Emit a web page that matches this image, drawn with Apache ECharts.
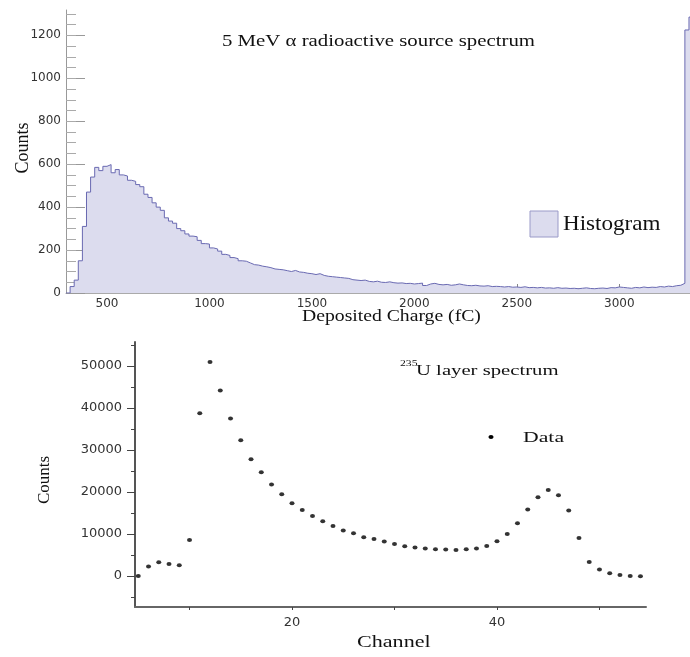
<!DOCTYPE html>
<html>
<head>
<meta charset="utf-8">
<script src="https://cdn.jsdelivr.net/npm/echarts@6.0.0/dist/echarts.min.js"></script>
<style>
  body { margin: 0; background: #fff; }
  #chart { width: 690px; height: 657px; }
</style>
</head>
<body>
<div id="chart"></div>
<script>
// top panel: alpha source histogram, 20 fC bins starting at 300 fC
const binStart = 300;
const binWidth = 20;
const histCounts = [
  0, 30, 60, 150, 310, 470, 540, 585, 570, 590,
  598, 560, 575, 550, 545, 525, 520, 505, 495, 460,
  445, 420, 400, 385, 350, 335, 325, 300, 290, 275,
  265, 262, 245, 230, 228, 210, 205, 195, 180, 175,
  165, 160, 150, 148, 140, 132, 130, 125, 122, 118,
  112, 110, 108, 104, 100, 105, 98, 96, 92, 90,
  86, 90, 82, 78, 76, 74, 72, 70, 68, 62,
  60, 58, 60, 54, 52, 55, 50, 49, 52, 48,
  46, 47, 44, 45, 42, 44, 46, 35, 42, 45,
  40, 38, 40, 36, 38, 42, 38, 35, 34, 36,
  33, 32, 34, 30, 31, 30, 28, 30, 27, 28,
  26, 29, 25, 26, 24, 26, 23, 24, 22, 25,
  22, 23, 21, 22, 20, 22, 24, 21, 20, 22,
  23, 21, 25, 24, 28, 26, 24, 22, 26, 24,
  28, 25, 27, 26, 30, 28, 32, 30, 34, 36,
  45, 1225, 1285
];
const topXLabels = [500, 1000, 1500, 2000, 2500, 3000];
const topYLabels = [0, 200, 400, 600, 800, 1000, 1200];

// bottom panel: 235U layer spectrum
const channels = [
  5, 6, 7, 8, 9, 10, 11, 12, 13, 14, 15, 16, 17, 18, 19, 20, 21, 22, 23, 24, 25,
  26, 27, 28, 29, 30, 31, 32, 33, 34, 35, 36, 37, 38, 39, 40,
  41, 42, 43, 44, 45, 46, 47, 48, 49, 50, 51, 52, 53, 54
];
const uCounts = [
  0, 2220, 3250, 2860, 2540, 8570, 38730, 50950, 44130, 37460, 32300, 27780, 24680, 21750, 19440, 17300, 15700, 14290, 13020, 11900, 10790,
  10160, 9210, 8810, 8170, 7620, 7060, 6750, 6510, 6350, 6270, 6190, 6350, 6510, 7140, 8250,
  10000, 12540, 15790, 18730, 20480, 19210, 15560, 9050, 3330, 1510, 630, 240, 0, -100
];
const botXLabels = [20, 40];
const botXTicks = [10, 20, 30, 40, 50];
const botYLabels = [0, 10000, 20000, 30000, 40000, 50000];
const botYMinor = [-5000, 5000, 15000, 25000, 35000, 45000, 55000];

const topXMinor = [];
for (let v = 300; v <= 3300; v += 100) topXMinor.push(v);
const topYMinor = [];
for (let v = 50; v <= 1300; v += 50) topYMinor.push(v);

const histData = histCounts.map((c, i) => [binStart + i * binWidth, c]);
histData.push([binStart + histCounts.length * binWidth, histCounts[histCounts.length - 1]]);

const serif = '"Liberation Serif", "Times New Roman", serif';
const sans = '"DejaVu Sans", sans-serif';
const histFill = '#dcdcee';
const histLine = '#6a6ab2';
const plain = v => String(v);

const chart = echarts.init(document.getElementById('chart'));

const option = {
  animation: false,
  grid: [
    { left: 66, top: 10, width: 624, height: 283 },
    { left: 135, top: 342, width: 511, height: 265 },
  ],
  xAxis: [
    {
      gridIndex: 0, type: 'value', position: 'bottom', min: 300, max: 3345,
      axisLine: { show: true, onZero: false, lineStyle: { color: '#aaa' } },
      axisTick: { show: true, inside: true, length: 9, customValues: topXLabels, lineStyle: { color: '#888' } },
      axisLabel: { customValues: topXLabels, formatter: plain, color: '#333', fontSize: 12, fontFamily: sans, margin: 5 },
      splitLine: { show: false },
    },
    {
      gridIndex: 0, type: 'value', position: 'bottom', min: 300, max: 3345,
      axisLine: { show: false, onZero: false },
      axisTick: { show: true, inside: true, length: 5, customValues: topXMinor, lineStyle: { color: '#999' } },
      axisLabel: { show: false },
      splitLine: { show: false },
    },
    {
      gridIndex: 1, type: 'value', position: 'bottom', min: 4.68, max: 54.54,
      axisLine: { show: true, onZero: false, lineStyle: { color: '#666', width: 2 } },
      axisTick: { show: true, length: 3, customValues: botXTicks, lineStyle: { color: '#444' } },
      axisLabel: { customValues: botXLabels, formatter: plain, color: '#333', fontSize: 13, fontFamily: sans, margin: 9 },
      splitLine: { show: false },
    },
  ],
  yAxis: [
    {
      gridIndex: 0, type: 'value', position: 'left', min: 0, max: 1318,
      axisLine: { show: true, onZero: false, lineStyle: { color: '#999' } },
      axisTick: { show: true, inside: true, length: 19, customValues: topYLabels, lineStyle: { color: '#999' } },
      axisLabel: { customValues: topYLabels, formatter: plain, color: '#333', fontSize: 12, fontFamily: sans, margin: 5 },
      splitLine: { show: false },
    },
    {
      gridIndex: 0, type: 'value', position: 'left', min: 0, max: 1318,
      axisLine: { show: false, onZero: false },
      axisTick: { show: true, inside: true, length: 10, customValues: topYMinor, lineStyle: { color: '#aaa' } },
      axisLabel: { show: false },
      splitLine: { show: false },
    },
    {
      gridIndex: 1, type: 'value', position: 'left', min: -7400, max: 55700,
      axisLine: { show: true, onZero: false, lineStyle: { color: '#555', width: 2 } },
      axisTick: { show: true, length: 8, customValues: botYLabels, lineStyle: { color: '#444' } },
      axisLabel: { customValues: botYLabels, formatter: plain, color: '#333', fontSize: 13, fontFamily: sans, margin: 13 },
      splitLine: { show: false },
    },
    {
      gridIndex: 1, type: 'value', position: 'left', min: -7400, max: 55700,
      axisLine: { show: false, onZero: false },
      axisTick: { show: true, length: 4, customValues: botYMinor, lineStyle: { color: '#444' } },
      axisLabel: { show: false },
      splitLine: { show: false },
    },
  ],
  series: [
    {
      name: 'Histogram',
      type: 'line',
      xAxisIndex: 0,
      yAxisIndex: 0,
      step: 'end',
      symbol: 'none',
      lineStyle: { color: histLine, width: 1 },
      areaStyle: { color: histFill, opacity: 1 },
      data: histData,
    },
    {
      name: 'Data',
      type: 'scatter',
      xAxisIndex: 2,
      yAxisIndex: 2,
      symbol: 'circle',
      symbolSize: [5, 4],
      itemStyle: { color: '#000' },
      data: channels.map((ch, i) => [ch, uCounts[i]]),
    },
  ],
  graphic: [
    // top panel texts
    { type: 'text', x: 222, y: 42, scaleX: 1.3, style: { text: '5 MeV α radioactive source spectrum', fontSize: 16, fontFamily: serif, fill: '#111', verticalAlign: 'middle' } },
    { type: 'text', x: 302, y: 317, scaleX: 1.23, style: { text: 'Deposited Charge (fC)', fontSize: 16, fontFamily: serif, fill: '#111', verticalAlign: 'middle' } },
    { type: 'text', x: 23, y: 148, rotation: Math.PI / 2, style: { text: 'Counts', fontSize: 18, fontFamily: serif, fill: '#111', align: 'center', verticalAlign: 'middle' } },
    { type: 'rect', shape: { x: 530, y: 211, width: 28, height: 26 }, style: { fill: histFill, stroke: '#9a9ac8', lineWidth: 1 } },
    { type: 'text', x: 563, y: 224, scaleX: 1.1, style: { text: 'Histogram', fontSize: 21, fontFamily: serif, fill: '#111', verticalAlign: 'middle' } },
    // bottom panel texts
    { type: 'text', x: 400, y: 364, scaleX: 1.3, style: { text: '235', fontSize: 9, fontFamily: serif, fill: '#111', verticalAlign: 'middle' } },
    { type: 'text', x: 416, y: 371, scaleX: 1.38, style: { text: 'U layer spectrum', fontSize: 15, fontFamily: serif, fill: '#111', verticalAlign: 'middle' } },
    { type: 'ellipse', shape: { cx: 491, cy: 437, rx: 2.5, ry: 2 }, style: { fill: '#000' } },
    { type: 'text', x: 523, y: 438, scaleX: 1.45, style: { text: 'Data', fontSize: 15, fontFamily: serif, fill: '#111', verticalAlign: 'middle' } },
    { type: 'text', x: 357, y: 643, scaleX: 1.3, style: { text: 'Channel', fontSize: 17, fontFamily: serif, fill: '#111', verticalAlign: 'middle' } },
    { type: 'text', x: 45, y: 480, rotation: Math.PI / 2, style: { text: 'Counts', fontSize: 17, fontFamily: serif, fill: '#111', align: 'center', verticalAlign: 'middle' } },
  ],
};

chart.setOption(option);
</script>
</body>
</html>
